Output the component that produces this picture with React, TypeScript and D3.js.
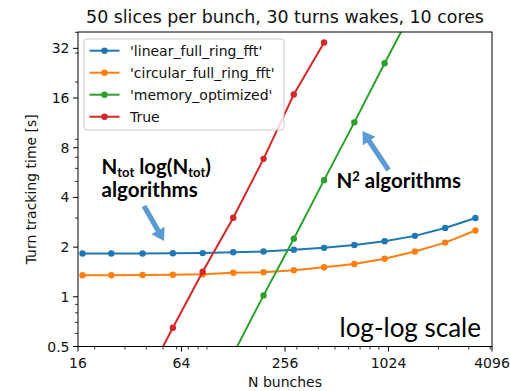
import { useEffect, useRef } from 'react';
import * as d3 from 'd3';

// N bunches (x) and turn tracking time in seconds (y)
const nBunches = [17, 25, 38, 57, 85, 128, 192, 288, 432, 648, 972, 1458, 2187, 3281];
const linearFullRingFft = [1.83, 1.83, 1.83, 1.835, 1.84, 1.86, 1.88, 1.93, 1.98, 2.06, 2.17, 2.34, 2.61, 3.0];
const circularFullRingFft = [1.35, 1.35, 1.355, 1.36, 1.37, 1.4, 1.41, 1.45, 1.51, 1.58, 1.7, 1.88, 2.13, 2.52];
const memoryBunches = [128, 192, 288, 432, 648, 972, 1458];
const memoryOptimized = [0.45, 1.02, 2.25, 5.09, 11.4, 26.0, 58.0];
const trueBunches = [38, 57, 85, 128, 192, 288, 432];
const trueTimes = [0.29, 0.65, 1.42, 3.01, 6.85, 16.8, 34.7];

const seriesNames = ["'linear_full_ring_fft'", "'circular_full_ring_fft'", "'memory_optimized'", 'True'];
const seriesColors = ['#1f77b4', '#ff7f0e', '#2ca02c', '#d62728'];

const xTicks = [16, 64, 256, 1024, 4096];
const yTicks = [0.5, 1, 2, 4, 8, 16, 32];

const title = '50 slices per bunch, 30 turns wakes, 10 cores';
const xLabel = 'N bunches';
const yLabel = 'Turn tracking time [s]';

const font = 'DejaVu Sans, sans-serif';
const noteFont = 'Lato, sans-serif';
const arrowBlue = '#5b9bd5';

// polygon for a fat block arrow from tail to tip
function arrowPath(x1: number, y1: number, x2: number, y2: number) {
  const shaft = 2.6, head = 7.5, headLen = 12;
  const dx = x2 - x1, dy = y2 - y1;
  const len = Math.hypot(dx, dy);
  const ux = dx / len, uy = dy / len;
  const px = -uy, py = ux;
  const bx = x2 - ux * headLen, by = y2 - uy * headLen;
  const pts = [
    [x1 + px * shaft, y1 + py * shaft],
    [bx + px * shaft, by + py * shaft],
    [bx + px * head, by + py * head],
    [x2, y2],
    [bx - px * head, by - py * head],
    [bx - px * shaft, by - py * shaft],
    [x1 - px * shaft, y1 - py * shaft],
  ];
  return 'M' + pts.map(p => p.join(',')).join('L') + 'Z';
}

const App = () => {
  const svgRef = useRef<SVGSVGElement | null>(null);

  useEffect(() => {
    const width = 510;
    const height = 391;
    const left = 78, right = 492, top = 32, bottom = 346.5;

    const svg = d3.select(svgRef.current)
      .attr('width', width)
      .attr('height', height);
    svg.selectAll('*').remove();

    const x = d3.scaleLog().base(2).domain([16, 4096]).range([left, right]);
    const y = d3.scaleLog().base(2).domain([0.5, 40.2]).range([bottom, top]);

    svg.append('rect').attr('width', width).attr('height', height).attr('fill', '#fff');

    svg.append('clipPath').attr('id', 'plot-clip')
      .append('rect')
      .attr('x', left).attr('y', top)
      .attr('width', right - left).attr('height', bottom - top);

    const series = [
      { xs: nBunches, ys: linearFullRingFft },
      { xs: nBunches, ys: circularFullRingFft },
      { xs: memoryBunches, ys: memoryOptimized },
      { xs: trueBunches, ys: trueTimes },
    ];

    const line = d3.line<[number, number]>()
      .x(d => x(d[0]))
      .y(d => y(d[1]));

    const plot = svg.append('g').attr('clip-path', 'url(#plot-clip)');
    series.forEach((s, i) => {
      const pts = s.xs.map((v, j) => [v, s.ys[j]] as [number, number]);
      plot.append('path')
        .attr('d', line(pts))
        .attr('fill', 'none')
        .attr('stroke', seriesColors[i])
        .attr('stroke-width', 2);
      plot.selectAll(null)
        .data(pts)
        .enter().append('circle')
        .attr('cx', d => x(d[0]))
        .attr('cy', d => y(d[1]))
        .attr('r', 3.2)
        .attr('fill', seriesColors[i]);
    });

    // minor ticks (base-10 subdivisions, like matplotlib)
    const isPow10 = (v: number) => Math.abs(Math.log10(v) - Math.round(Math.log10(v))) < 1e-9;
    const xMinor = d3.scaleLog().domain(x.domain()).ticks()
      .filter(v => !xTicks.includes(v) && !isPow10(v));
    const yMinor = d3.scaleLog().domain(y.domain()).ticks()
      .filter(v => !yTicks.includes(v) && !isPow10(v));

    const axes = svg.append('g').attr('stroke', '#000').attr('stroke-width', 1);
    axes.selectAll(null).data(xTicks).enter().append('line')
      .attr('x1', d => x(d)).attr('x2', d => x(d))
      .attr('y1', bottom).attr('y2', bottom + 5);
    axes.selectAll(null).data(xMinor).enter().append('line')
      .attr('x1', d => x(d)).attr('x2', d => x(d))
      .attr('y1', bottom).attr('y2', bottom + 3)
      .attr('stroke-width', 0.8);
    axes.selectAll(null).data(yTicks).enter().append('line')
      .attr('y1', d => y(d)).attr('y2', d => y(d))
      .attr('x1', left - 5).attr('x2', left);
    axes.selectAll(null).data(yMinor).enter().append('line')
      .attr('y1', d => y(d)).attr('y2', d => y(d))
      .attr('x1', left - 3).attr('x2', left)
      .attr('stroke-width', 0.8);

    svg.selectAll('.xtick').data(xTicks).enter().append('text')
      .attr('x', d => x(d)).attr('y', bottom + 21)
      .attr('text-anchor', 'middle')
      .attr('font-family', font).attr('font-size', 14)
      .attr('fill', '#111')
      .text(d => String(d));
    svg.selectAll('.ytick').data(yTicks).enter().append('text')
      .attr('x', left - 8.5).attr('y', d => y(d))
      .attr('dy', '0.36em')
      .attr('text-anchor', 'end')
      .attr('font-family', font).attr('font-size', 14)
      .attr('fill', '#111')
      .text(d => String(d));

    svg.append('text')
      .attr('x', (left + right) / 2).attr('y', 23)
      .attr('text-anchor', 'middle')
      .attr('font-family', font).attr('font-size', 17.4)
      .attr('fill', '#111')
      .text(title);
    svg.append('text')
      .attr('x', (left + right) / 2).attr('y', 387)
      .attr('text-anchor', 'middle')
      .attr('font-family', font).attr('font-size', 14)
      .attr('fill', '#111')
      .text(xLabel);
    svg.append('text')
      .attr('transform', `translate(36,${(top + bottom) / 2}) rotate(-90)`)
      .attr('text-anchor', 'middle')
      .attr('font-family', font).attr('font-size', 14)
      .attr('fill', '#111')
      .text(yLabel);

    // legend
    const lg = svg.append('g');
    lg.append('rect')
      .attr('x', 84).attr('y', 39).attr('width', 200).attr('height', 91)
      .attr('rx', 3)
      .attr('fill', '#fff').attr('fill-opacity', 0.8)
      .attr('stroke', '#ccc').attr('stroke-width', 1);
    seriesNames.forEach((name, i) => {
      const cy = 50.7 + i * 22;
      lg.append('line')
        .attr('x1', 89.5).attr('x2', 119.5).attr('y1', cy).attr('y2', cy)
        .attr('stroke', seriesColors[i]).attr('stroke-width', 2);
      lg.append('circle').attr('cx', 104.5).attr('cy', cy).attr('r', 3.2)
        .attr('fill', seriesColors[i]);
      lg.append('text')
        .attr('x', 130).attr('y', cy).attr('dy', '0.36em')
        .attr('font-family', font).attr('font-size', 14)
        .attr('fill', '#111')
        .text(name);
    });

    // annotations
    const n1 = svg.append('text')
      .attr('x', 101.5).attr('y', 174)
      .attr('font-family', noteFont).attr('font-weight', 700).attr('font-size', 20.5)
      .attr('fill', '#000');
    n1.append('tspan').text('N');
    n1.append('tspan').attr('font-size', 13).attr('dy', 3).text('tot');
    n1.append('tspan').attr('dy', -3).text(' log(N');
    n1.append('tspan').attr('font-size', 13).attr('dy', 3).text('tot');
    n1.append('tspan').attr('dy', -3).text(')');
    svg.append('text')
      .attr('x', 101.5).attr('y', 197)
      .attr('font-family', noteFont).attr('font-weight', 700).attr('font-size', 20.5)
      .attr('fill', '#000')
      .text('algorithms');

    const n2 = svg.append('text')
      .attr('x', 336.5).attr('y', 188)
      .attr('font-family', noteFont).attr('font-weight', 700).attr('font-size', 20.5)
      .attr('fill', '#000');
    n2.append('tspan').text('N');
    n2.append('tspan').attr('font-size', 13).attr('dy', -7).text('2');
    n2.append('tspan').attr('dy', 7).text(' algorithms');

    svg.append('text')
      .attr('x', 481).attr('y', 337)
      .attr('text-anchor', 'end')
      .attr('font-family', noteFont).attr('font-size', 26)
      .attr('fill', '#000')
      .text('log-log scale');

    svg.append('path').attr('d', arrowPath(144, 206, 164, 241)).attr('fill', arrowBlue);
    svg.append('path').attr('d', arrowPath(388.5, 170, 362.5, 131)).attr('fill', arrowBlue);

    // frame
    svg.append('rect')
      .attr('x', left).attr('y', top)
      .attr('width', right - left).attr('height', bottom - top)
      .attr('fill', 'none').attr('stroke', '#000').attr('stroke-width', 1);
  }, []);

  return (
    <div>
      <svg ref={svgRef} style={{ position: 'absolute', left: 0, top: 0 }}></svg>
    </div>
  );
};

export default App;
